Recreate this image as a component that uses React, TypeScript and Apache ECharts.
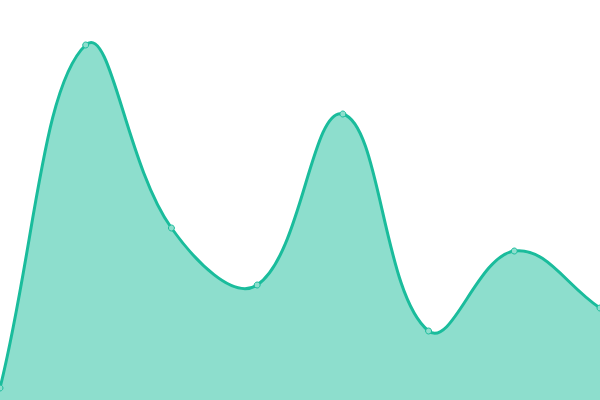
import React, { useEffect, useRef } from "react";
import * as echarts from "echarts";

const categories = ["1", "2", "3", "4", "5", "6", "7", "8"];
const values = [12, 355, 172, 115, 286, 69, 149, 92];
const TENSION = 0.4;

function buildPath(pts: number[][], base: number, closed: boolean) {
  const n = pts.length;
  let d = closed ? `M${pts[0][0]},${base} L${pts[0][0]},${pts[0][1]}` : `M${pts[0][0]},${pts[0][1]}`;
  const cps: { p: number[]; n: number[] }[] = pts.map((cur, i) => {
    const prev = pts[i - 1] || cur;
    const next = pts[i + 1] || cur;
    const d01 = Math.hypot(cur[0] - prev[0], cur[1] - prev[1]);
    const d12 = Math.hypot(next[0] - cur[0], next[1] - cur[1]);
    let s01 = d01 / (d01 + d12);
    let s12 = d12 / (d01 + d12);
    if (!isFinite(s01)) s01 = 0;
    if (!isFinite(s12)) s12 = 0;
    const fa = TENSION * s01;
    const fb = TENSION * s12;
    return {
      p: [cur[0] - fa * (next[0] - prev[0]), cur[1] - fa * (next[1] - prev[1])],
      n: [cur[0] + fb * (next[0] - prev[0]), cur[1] + fb * (next[1] - prev[1])],
    };
  });
  for (let i = 1; i < n; i++) {
    const c1 = cps[i - 1].n;
    const c2 = cps[i].p;
    d += ` C${c1[0]},${c1[1]} ${c2[0]},${c2[1]} ${pts[i][0]},${pts[i][1]}`;
  }
  if (closed) d += ` L${pts[n - 1][0]},${base} Z`;
  return d;
}

export default function App() {
  const ref = useRef<HTMLDivElement>(null);
  useEffect(() => {
    document.body.style.margin = "0";
    const chart = echarts.init(ref.current!, undefined, { renderer: "svg" });
    const pairs = values.map((v, i) => [i, v]);
    chart.setOption({
      animation: false,
      grid: { left: 0, right: 0, top: 0, bottom: 0 },
      xAxis: { type: "category", data: categories, boundaryGap: false, show: false },
      yAxis: { type: "value", min: 0, max: 400, show: false },
      series: [
        {
          type: "custom",
          data: pairs,
          clip: false,
          renderItem: (params: any, api: any) => {
            if (params.dataIndex !== 0) return null;
            const pts = values.map((v, i) => api.coord([i, v]));
            const base = api.coord([0, 0])[1];
            return {
              type: "group",
              children: [
                {
                  type: "path",
                  shape: { pathData: buildPath(pts, base, true) },
                  style: { fill: "#8ddecd", stroke: "none" },
                },
                {
                  type: "path",
                  shape: { pathData: buildPath(pts, base, false) },
                  style: { fill: "none", stroke: "#1abc9c", lineWidth: 3 },
                },
              ],
            };
          },
        },
        {
          type: "scatter",
          data: pairs,
          symbol: "circle",
          symbolSize: 6,
          z: 5,
          itemStyle: { color: "#8ddecd", borderColor: "#1abc9c", borderWidth: 1, opacity: 1 },
        },
      ],
    });
    return () => chart.dispose();
  }, []);
  return <div ref={ref} style={{ position: "fixed", left: 0, top: 0, width: 600, height: 400 }} />;
}
